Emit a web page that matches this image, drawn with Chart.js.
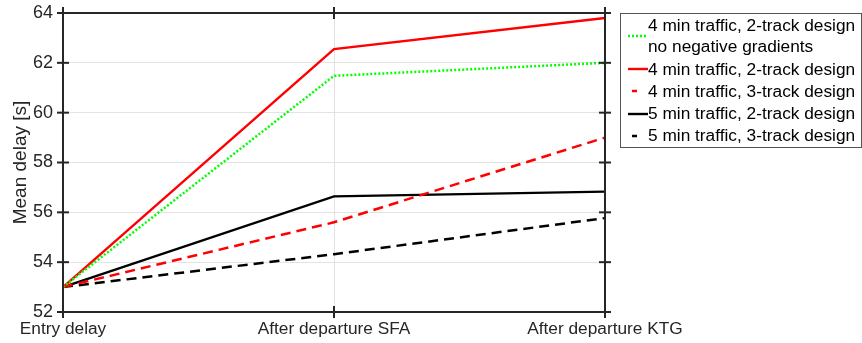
<!DOCTYPE html>
<html><head><meta charset="utf-8">
<script src="https://cdn.jsdelivr.net/npm/chart.js@4"></script>
<style>html,body{margin:0;padding:0;background:#fff}</style>
</head><body>
<canvas id="c" width="862" height="343" style="width:862px;height:343px;display:block"></canvas>
<script>
const categories = ['Entry delay', 'After departure SFA', 'After departure KTG'];
const green2trackNoNeg = [53, 61.48, 62.0];
const red2track = [53, 62.55, 63.8];
const red3track = [53, 55.6, 59.0];
const black2track = [53, 56.64, 56.83];
const black3track = [53, 54.32, 55.77];
const yTicks = [52, 54, 56, 58, 60, 62, 64];
const legendLabels = [
  ['4 min traffic, 2-track design', 'no negative gradients'],
  ['4 min traffic, 2-track design'],
  ['4 min traffic, 3-track design'],
  ['5 min traffic, 2-track design'],
  ['5 min traffic, 3-track design']
];
const FONT = '"Liberation Sans", Arial, Helvetica, sans-serif';
const AX = '#262626';

const framePlugin = {
  id: 'frame',
  afterDatasetsDraw(chart) {
    const {ctx, chartArea: a, scales: {x, y}} = chart;
    ctx.save();
    ctx.strokeStyle = AX;
    ctx.lineWidth = 2;
    ctx.setLineDash([]);
    ctx.strokeRect(a.left, a.top, a.right - a.left, a.bottom - a.top);
    const seg = (x1, y1, x2, y2) => { ctx.beginPath(); ctx.moveTo(x1, y1); ctx.lineTo(x2, y2); ctx.stroke(); };
    yTicks.forEach(v => {
      const py = y.getPixelForValue(v);
      seg(a.left - 6, py, a.left + 6, py);
      seg(a.right - 6, py, a.right + 6, py);
    });
    categories.forEach((c, i) => {
      const px = x.getPixelForValue(i);
      seg(px, a.bottom - 6, px, a.bottom + 6);
      seg(px, a.top - 6, px, a.top + 6);
    });
    ctx.restore();
  }
};

const legendPlugin = {
  id: 'boxLegend',
  afterDraw(chart) {
    const ctx = chart.ctx;
    ctx.save();
    ctx.strokeStyle = '#555';
    ctx.lineWidth = 1;
    ctx.setLineDash([]);
    ctx.strokeRect(620.5, 13.5, 241, 134);
    ctx.font = '17.3px ' + FONT;
    ctx.fillStyle = '#000';
    ctx.textBaseline = 'middle';
    const rowsY = [[26.5, 47.5], [70], [92], [114], [136]];
    const sampleY = [36, 69, 91, 114, 136];
    chart.data.datasets.forEach((ds, i) => {
      ctx.strokeStyle = ds.borderColor;
      ctx.lineWidth = ds.borderWidth;
      const sy = sampleY[i];
      ctx.beginPath();
      if (ds.legendKind === 'dashed') {
        ctx.setLineDash([5, 30]);
        ctx.moveTo(632, sy); ctx.lineTo(647, sy);
      } else if (ds.legendKind === 'dotted') {
        ctx.setLineDash(ds.borderDash);
        ctx.moveTo(628, sy); ctx.lineTo(646, sy);
      } else {
        ctx.setLineDash([]);
        ctx.moveTo(628, sy); ctx.lineTo(648, sy);
      }
      ctx.stroke();
      legendLabels[i].forEach((t, k) => ctx.fillText(t, 648, rowsY[i][k]));
    });
    ctx.restore();
  }
};

new Chart(document.getElementById('c'), {
  type: 'line',
  data: {
    labels: categories,
    datasets: [
      {data: green2trackNoNeg, borderColor: '#00ff00', borderWidth: 2.5, borderDash: [2, 2], legendKind: 'dotted'},
      {data: red2track, borderColor: '#ff0000', borderWidth: 2.4, legendKind: 'solid'},
      {data: red3track, borderColor: '#ff0000', borderWidth: 2.5, borderDash: [10, 6], legendKind: 'dashed'},
      {data: black2track, borderColor: '#000000', borderWidth: 2.4, legendKind: 'solid'},
      {data: black3track, borderColor: '#000000', borderWidth: 2.5, borderDash: [10, 6], legendKind: 'dashed'}
    ]
  },
  options: {
    responsive: false,
    devicePixelRatio: 1,
    animation: false,
    layout: {padding: {left: 0, right: 257, top: 13, bottom: 0}},
    elements: {point: {radius: 0}, line: {tension: 0, fill: false}},
    plugins: {legend: {display: false}, tooltip: {enabled: false}},
    scales: {
      x: {
        type: 'category',
        offset: false,
        grid: {color: '#e3e3e3', lineWidth: 1, drawTicks: false},
        border: {display: false},
        ticks: {color: AX, font: {family: FONT, size: 17.3}, padding: 7, maxRotation: 0, autoSkip: false},
        afterFit(s) { s.height = 31; s.paddingLeft = 0; s.paddingRight = 0; }
      },
      y: {
        min: 52, max: 64,
        afterBuildTicks(s) { s.ticks = yTicks.map(v => ({value: v})); },
        grid: {color: '#e3e3e3', lineWidth: 1, drawTicks: false},
        border: {display: false},
        ticks: {color: AX, font: {family: FONT, size: 18}, padding: 10},
        title: {display: true, text: 'Mean delay [s]', color: AX, font: {family: FONT, size: 19}, padding: {top: 9, bottom: 0}},
        afterFit(s) { s.width = 63; s.paddingTop = 0; s.paddingBottom = 0; }
      }
    }
  },
  plugins: [framePlugin, legendPlugin]
});
</script>
</body></html>
